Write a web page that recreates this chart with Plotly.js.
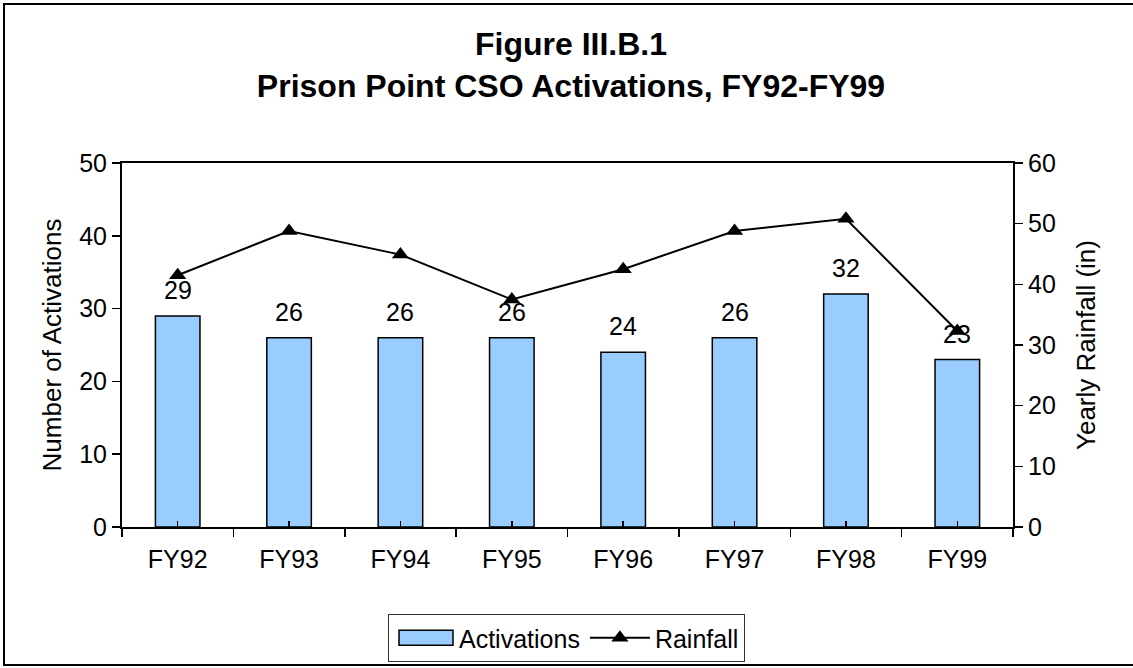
<!DOCTYPE html>
<html>
<head>
<meta charset="utf-8">
<script src="https://cdn.plot.ly/plotly-3.0.1.min.js"></script>
<style>
  html, body { margin:0; padding:0; background:#fff; overflow:hidden; width:1133px; height:668px; }
  #chart { position:absolute; left:0; top:0; width:1133px; height:668px; }
  #frame { position:absolute; left:3px; top:3px; width:1140px; height:659px; border:2px solid #000; pointer-events:none; z-index:10; }
</style>
</head>
<body>
<div id="chart"></div>
<div id="frame"></div>
<script>
const categories = ['FY92','FY93','FY94','FY95','FY96','FY97','FY98','FY99'];
const activations = [29, 26, 26, 26, 24, 26, 32, 23];
const rainfall = [41.5, 48.8, 44.9, 37.5, 42.5, 48.8, 50.8, 32.3];
const leftTicks = [0, 10, 20, 30, 40, 50];
const rightTicks = [0, 10, 20, 30, 40, 50, 60];
const titleLines = ['Figure III.B.1', 'Prison Point CSO Activations, FY92-FY99'];

const FONT = '"Liberation Sans", Arial, Helvetica, sans-serif';

const traces = [
  {
    type: 'bar', name: 'Activations', x: categories, y: activations,
    marker: { color: '#99CCFF', line: { color: '#000000', width: 1.5 } },
    hoverinfo: 'skip'
  },
  {
    type: 'scatter', mode: 'lines+markers', name: 'Rainfall',
    x: categories, y: rainfall, xaxis: 'x2', yaxis: 'y2',
    line: { color: '#000000', width: 2 },
    marker: { symbol: 'triangle-up', size: 15, color: '#000000' },
    hoverinfo: 'skip'
  }
];

const annotations = activations.map((v, i) => ({
  x: categories[i], y: v, xref: 'x', yref: 'y',
  text: String(v), showarrow: false, yanchor: 'middle', yshift: 26,
  font: { family: FONT, size: 25, color: '#000' }
}));

const layout = {
  width: 1133, height: 668,
  margin: { l: 122, r: 120, t: 163, b: 141, pad: 0 },
  paper_bgcolor: '#ffffff', plot_bgcolor: '#ffffff',
  font: { family: FONT, size: 25, color: '#000' },
  title: {
    text: titleLines.join('<br>'),
    font: { family: FONT, size: 32, color: '#000', weight: 'bold' },
    x: 571 / 1133, xanchor: 'center', xref: 'container',
    y: 1 - 55 / 668, yanchor: 'top', yref: 'container'
  },
  bargap: 0.6,
  showlegend: true,
  legend: {
    orientation: 'h', xref: 'container', yref: 'container',
    x: 388 / 1133, xanchor: 'left', y: 1 - 614 / 668, yanchor: 'top',
    bordercolor: '#333', borderwidth: 1, bgcolor: '#fff',
    font: { family: FONT, size: 25, color: '#000' },
    traceorder: 'normal', itemwidth: 60
  },
  xaxis: {
    type: 'category', categoryorder: 'array', categoryarray: categories,
    range: [-0.5, 7.5], showgrid: false, zeroline: false,
    showline: true, linecolor: '#000', linewidth: 2, mirror: true,
    ticks: 'outside', tickson: 'boundaries', ticklen: 8, tickwidth: 1.5, tickcolor: '#000',
    ticklabelstandoff: 9,
    tickfont: { family: FONT, size: 25, color: '#000' }, fixedrange: true
  },
  xaxis2: {
    type: 'category', categoryorder: 'array', categoryarray: categories,
    overlaying: 'x', anchor: 'y', side: 'bottom',
    range: [-0.5, 7.5], showgrid: false, zeroline: false, showline: false,
    ticks: 'inside', ticklen: 6, tickwidth: 1.5, tickcolor: '#000',
    showticklabels: false, fixedrange: true
  },
  yaxis: {
    range: [0, 50], tickvals: leftTicks, showgrid: false, zeroline: false,
    showline: true, linecolor: '#000', linewidth: 2,
    ticks: 'outside', ticklen: 8, tickwidth: 1.5, tickcolor: '#000',
    tickfont: { family: FONT, size: 25, color: '#000' },
    title: { text: 'Number of Activations', font: { family: FONT, size: 26, color: '#000' }, standoff: 10 },
    fixedrange: true
  },
  yaxis2: {
    overlaying: 'y', side: 'right', anchor: 'x',
    range: [0, 60], tickvals: rightTicks, showgrid: false, zeroline: false,
    showline: true, linecolor: '#000', linewidth: 2,
    ticks: 'outside', ticklen: 8, tickwidth: 1.5, tickcolor: '#000',
    tickfont: { family: FONT, size: 25, color: '#000' },
    title: { text: 'Yearly Rainfall (in)', font: { family: FONT, size: 26, color: '#000' }, standoff: 22 },
    fixedrange: true
  },
  yaxis3: {
    overlaying: 'y', side: 'right', anchor: 'x',
    range: [0, 60], tickvals: rightTicks, showgrid: false, zeroline: false,
    showline: false, ticks: 'inside', ticklen: 8, tickwidth: 1.5, tickcolor: '#000',
    showticklabels: false, fixedrange: true
  },
  annotations: annotations
};

Plotly.newPlot('chart', traces, layout, { staticPlot: true, displayModeBar: false }).then(function (gd) {
  // Widen the bar legend swatch to the wide Excel-style rectangle.
  try {
    const items = gd.querySelectorAll('.legend .traces');
    if (items.length) {
      const item = items[0];
      const txt = item.querySelector('text.legendtext');
      const path = item.querySelector('.legendpoints path');
      if (txt && path) {
        const tb = txt.getBoundingClientRect();
        const pb = path.getBoundingClientRect();
        const cx = (pb.left + pb.right) / 2;
        const desired = tb.left - 6 - 27;
        const dx = desired - cx;
        path.setAttribute('d', 'M' + (dx - 27) + ',-7.5H' + (dx + 27) + 'V7.5H' + (dx - 27) + 'Z');
      }
    }
  } catch (e) {}
});
</script>
</body>
</html>
